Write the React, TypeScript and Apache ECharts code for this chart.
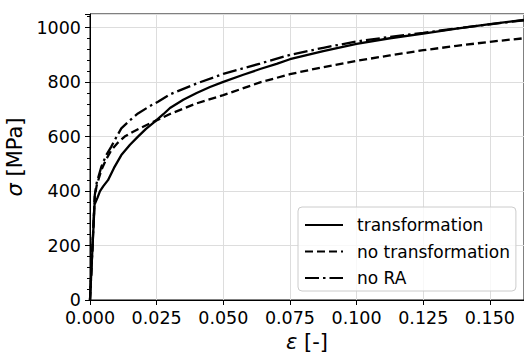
import React, { useEffect, useRef } from "react";
import * as echarts from "echarts";

const epsTrans = [0, 0.0017, 0.00275, 0.00375, 0.005, 0.00675, 0.009, 0.01175, 0.015, 0.018, 0.021, 0.0242, 0.0275, 0.03, 0.035, 0.04, 0.045, 0.05, 0.0575, 0.0638, 0.07, 0.075, 0.0875, 0.1, 0.1125, 0.125, 0.1375, 0.15, 0.1628];
const sigTrans = [0, 350, 374, 400, 418, 440, 485, 532, 570, 600, 628, 654, 682, 705, 735, 760, 782, 801, 827, 848, 867, 884, 914, 940, 961, 978, 996, 1013, 1028];

const epsNoTrans = [0, 0.0018, 0.0025, 0.00425, 0.006, 0.008, 0.0105, 0.013, 0.016, 0.01925, 0.0225, 0.03, 0.04, 0.05, 0.0638, 0.075, 0.0875, 0.1, 0.1125, 0.125, 0.1375, 0.15, 0.1628];
const sigNoTrans = [0, 380, 420, 477, 515, 550, 578, 600, 617, 633, 648, 683, 722, 752, 799, 829, 855, 878, 898, 917, 933, 948, 961];

const epsNoRA = [0, 0.0018, 0.0025, 0.00425, 0.006, 0.008, 0.01, 0.01175, 0.015, 0.018, 0.0225, 0.0255, 0.03, 0.04, 0.05, 0.0638, 0.075, 0.0875, 0.1, 0.1125, 0.125, 0.1375, 0.15, 0.1628];
const sigNoRA = [0, 385, 430, 489, 530, 563, 600, 630, 660, 685, 712, 728, 755, 795, 830, 868, 900, 926, 949, 966, 981, 997, 1012, 1027];

const seriesNames = ["transformation", "no transformation", "no RA"];
const yTicks = [0, 200, 400, 600, 800, 1000];
const xTicks = [0, 0.025, 0.05, 0.075, 0.1, 0.125, 0.15];

const zip = (xs: number[], ys: number[]) => xs.map((x, i) => [x, ys[i]]);

export default function App() {
  const ref = useRef<HTMLDivElement>(null);
  useEffect(() => {
    if (!ref.current) return;
    const chart = echarts.init(ref.current, null, { renderer: "svg" });
    const font = "'DejaVu Sans'";
    const lw = 2.3;
    chart.setOption({
      animation: false,
      grid: {
        left: 90,
        right: 0,
        top: 14,
        bottom: 52,
        containLabel: false,
        outerBoundsMode: "none",
        show: true,
        borderColor: "#000",
        borderWidth: 1,
      },
      xAxis: {
        type: "value",
        min: xTicks[0],
        max: 0.1628,
        interval: 0.025,
        name: "{i|ε} [-]",
        nameLocation: "middle",
        nameGap: 24,
        nameTextStyle: {
          fontFamily: font,
          fontSize: 21,
          color: "#000",
          rich: { i: { fontFamily: font, fontSize: 21, fontStyle: "italic", color: "#000" } },
        },
        axisLine: { show: true, lineStyle: { color: "#000", width: 1 } },
        axisTick: { show: true, length: 5, lineStyle: { color: "#000", width: 1 } },
        axisLabel: {
          fontFamily: font,
          fontSize: 17.5,
          lineHeight: 15,
          color: "#000",
          margin: 10,
          showMaxLabel: false,
          formatter: (v: number) => v.toFixed(3),
        },
        splitLine: { show: true, lineStyle: { color: "#dddddd", width: 1 } },
      },
      yAxis: {
        type: "value",
        min: yTicks[0],
        max: 1050,
        interval: 200,
        name: "{i|σ} [MPa]",
        nameLocation: "middle",
        nameGap: 57,
        nameRotate: 90,
        nameTextStyle: {
          fontFamily: font,
          fontSize: 21,
          color: "#000",
          rich: { i: { fontFamily: font, fontSize: 21, fontStyle: "italic", color: "#000" } },
        },
        axisLine: { show: true, lineStyle: { color: "#000", width: 1 } },
        axisTick: { show: true, length: 5, lineStyle: { color: "#000", width: 1 } },
        minorTick: { show: true, splitNumber: 5, length: 3, lineStyle: { color: "#000", width: 1 } },
        axisLabel: {
          fontFamily: font,
          fontSize: 17.5,
          lineHeight: 15,
          color: "#000",
          margin: 9,
          showMaxLabel: false,
          formatter: (v: number) => String(v),
        },
        splitLine: { show: true, lineStyle: { color: "#dddddd", width: 1 } },
      },
      legend: {
        left: 298,
        top: 207,
        orient: "vertical",
        padding: [8, 6, 3, 6],
        itemWidth: 38,
        itemHeight: 20,
        itemGap: 6.5,
        itemStyle: { opacity: 0 },
        backgroundColor: "rgba(255,255,255,0.8)",
        borderColor: "#cccccc",
        borderWidth: 1,
        borderRadius: 4,
        textStyle: { fontFamily: font, fontSize: 17, color: "#000", lineHeight: 20, padding: [0, 0, 0, 9] },
        data: seriesNames,
      },
      series: [
        {
          name: seriesNames[0],
          type: "line",
          data: zip(epsTrans, sigTrans),
          showSymbol: false,
          symbol: "none",
          lineStyle: { color: "#000", width: lw, type: "solid" },
          itemStyle: { color: "#000" },
        },
        {
          name: seriesNames[1],
          type: "line",
          data: zip(epsNoTrans, sigNoTrans),
          showSymbol: false,
          symbol: "none",
          lineStyle: { color: "#000", width: lw, type: [8, 4] },
          itemStyle: { color: "#000" },
        },
        {
          name: seriesNames[2],
          type: "line",
          data: zip(epsNoRA, sigNoRA),
          showSymbol: false,
          symbol: "none",
          lineStyle: { color: "#000", width: lw, type: [14, 4, 2.5, 4] },
          itemStyle: { color: "#000" },
        },
      ],
    });
    return () => chart.dispose();
  }, []);
  return (
    <div
      ref={ref}
      style={{ position: "fixed", left: 0, top: 0, width: 524, height: 352, background: "#fff" }}
    />
  );
}
